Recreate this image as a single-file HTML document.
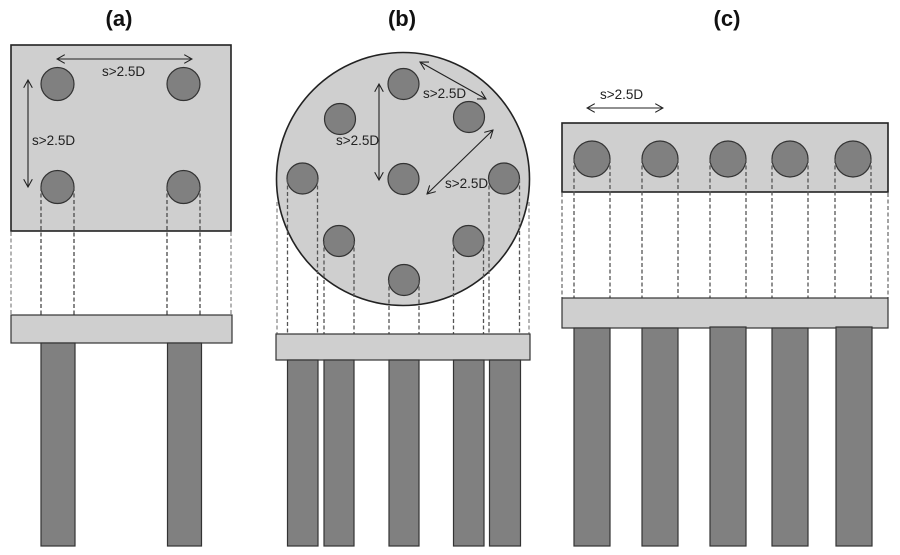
<!DOCTYPE html>
<html><head><meta charset="utf-8"><style>
html,body{margin:0;padding:0;background:#fff;}
svg{display:block;}
text{font-family:"Liberation Sans",Arial,sans-serif;}
</style></head><body>
<svg width="900" height="555" viewBox="0 0 900 555" xmlns="http://www.w3.org/2000/svg">
<defs>
<marker id="ah" viewBox="0 0 10 10" refX="9" refY="5" markerWidth="9" markerHeight="9" markerUnits="userSpaceOnUse" orient="auto-start-reverse">
<path d="M0,0 L9,5 L0,10" fill="none" stroke="#222" stroke-width="1.2"/>
</marker>
</defs>
<g font-weight="bold" font-size="22" fill="#111" text-anchor="middle">
<text x="119" y="26">(a)</text>
<text x="402" y="26">(b)</text>
<text x="727" y="26">(c)</text>
</g>

<!-- (a) -->
<rect x="11" y="45" width="220" height="186" fill="#cfcfcf" stroke="#222" stroke-width="1.6"/>
<g fill="#808080" stroke="#333" stroke-width="1.2">
<circle cx="57.5" cy="84" r="16.5"/><circle cx="183.5" cy="84" r="16.5"/>
<circle cx="57.5" cy="187" r="16.5"/><circle cx="183.5" cy="187" r="16.5"/>
</g>
<g stroke="#555" stroke-width="1.4" stroke-dasharray="4,2.5" fill="none">
<path d="M41,187 V315 M74,187 V315 M167,187 V315 M200,187 V315"/>
</g>
<g stroke="#777" stroke-width="1.1" stroke-dasharray="4,2.5" fill="none">
<path d="M11,232 V315 M231,232 V315"/>
</g>
<g stroke="#222" stroke-width="1.1" fill="none">
<line x1="57" y1="59" x2="192" y2="59" marker-start="url(#ah)" marker-end="url(#ah)"/>
<line x1="28" y1="80" x2="28" y2="187" marker-start="url(#ah)" marker-end="url(#ah)"/>
</g>
<g font-size="13.5" fill="#222">
<text x="102" y="76">s&gt;2.5D</text>
<text x="32" y="145">s&gt;2.5D</text>
</g>
<rect x="11" y="315" width="221" height="28" fill="#cfcfcf" stroke="#333" stroke-width="1.2"/>
<g fill="#808080" stroke="#333" stroke-width="1.2">
<rect x="41" y="343" width="34" height="203"/>
<rect x="167.5" y="343" width="34" height="203"/>
</g>

<!-- (b) -->
<circle cx="403" cy="179" r="126.5" fill="#cfcfcf" stroke="#222" stroke-width="1.6"/>
<g fill="#808080" stroke="#333" stroke-width="1.2">
<circle cx="403.5" cy="84" r="15.5"/>
<circle cx="340" cy="119" r="15.5"/>
<circle cx="469" cy="117" r="15.5"/>
<circle cx="302.5" cy="178.5" r="15.5"/>
<circle cx="403.5" cy="179" r="15.5"/>
<circle cx="504" cy="178.5" r="15.5"/>
<circle cx="339" cy="241" r="15.5"/>
<circle cx="468.5" cy="241" r="15.5"/>
<circle cx="404" cy="280" r="15.5"/>
</g>
<g stroke="#555" stroke-width="1.3" stroke-dasharray="4,2.5" fill="none">
<path d="M287.5,179 V334 M317.5,179 V334 M324,241 V334 M354,241 V334 M389,280 V334 M419,280 V334 M453.5,241 V334 M483.5,241 V334 M489,179 V334 M519.5,179 V334"/>
</g>
<g stroke="#777" stroke-width="1.1" stroke-dasharray="4,2.5" fill="none">
<path d="M277,202 V334 M529,202 V334"/>
</g>
<g stroke="#222" stroke-width="1.1" fill="none">
<line x1="379" y1="84" x2="379" y2="180" marker-start="url(#ah)" marker-end="url(#ah)"/>
<line x1="420" y1="62" x2="486" y2="99" marker-start="url(#ah)" marker-end="url(#ah)"/>
<line x1="493" y1="130" x2="427" y2="194" marker-start="url(#ah)" marker-end="url(#ah)"/>
</g>
<g font-size="13.5" fill="#222">
<text x="423" y="98">s&gt;2.5D</text>
<text x="336" y="145">s&gt;2.5D</text>
<text x="445" y="188">s&gt;2.5D</text>
</g>
<rect x="276" y="334" width="254" height="26" fill="#cfcfcf" stroke="#333" stroke-width="1.2"/>
<g fill="#808080" stroke="#333" stroke-width="1.2">
<rect x="287.5" y="360" width="30.5" height="186"/>
<rect x="324" y="360" width="30" height="186"/>
<rect x="389" y="360" width="30" height="186"/>
<rect x="453.5" y="360" width="30.5" height="186"/>
<rect x="489.5" y="360" width="31" height="186"/>
</g>

<!-- (c) -->
<rect x="562" y="123" width="326" height="69" fill="#cfcfcf" stroke="#222" stroke-width="1.6"/>
<g fill="#808080" stroke="#333" stroke-width="1.2">
<circle cx="592" cy="159" r="18"/>
<circle cx="660" cy="159" r="18"/>
<circle cx="728" cy="159" r="18"/>
<circle cx="790" cy="159" r="18"/>
<circle cx="853" cy="159" r="18"/>
</g>
<g stroke="#555" stroke-width="1.3" stroke-dasharray="4,2.5" fill="none">
<path d="M574,159 V298 M610,159 V298 M642,159 V298 M678,159 V298 M710,159 V298 M746,159 V298 M772,159 V298 M808,159 V298 M835,159 V298 M871,159 V298"/>
</g>
<g stroke="#666" stroke-width="1.2" stroke-dasharray="4,2.5" fill="none">
<path d="M562,193 V298 M888,193 V298"/>
</g>
<g stroke="#222" stroke-width="1.1" fill="none">
<line x1="587" y1="108" x2="663" y2="108" marker-start="url(#ah)" marker-end="url(#ah)"/>
</g>
<text x="600" y="99" font-size="13.5" fill="#222">s&gt;2.5D</text>
<rect x="562" y="298" width="326" height="30" fill="#cfcfcf" stroke="#333" stroke-width="1.2"/>
<g fill="#808080" stroke="#333" stroke-width="1.2">
<rect x="574" y="328" width="36" height="218"/>
<rect x="642" y="328" width="36" height="218"/>
<rect x="710" y="327" width="36" height="219"/>
<rect x="772" y="328" width="36" height="218"/>
<rect x="836" y="327" width="36" height="219"/>
</g>
</svg>
</body></html>
